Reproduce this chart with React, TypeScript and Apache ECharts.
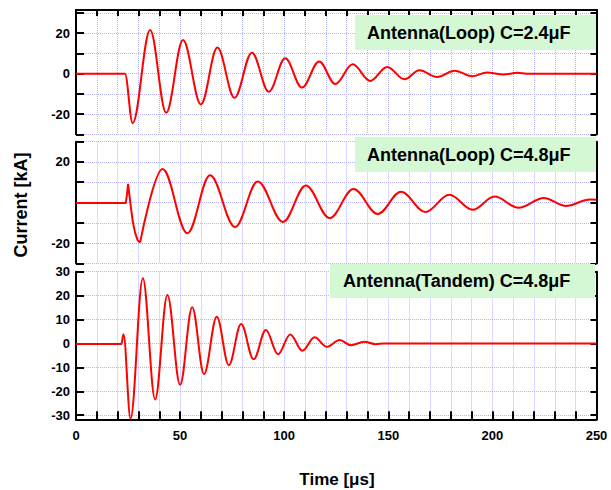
import React, { useEffect, useRef } from 'react';
import * as echarts from 'echarts';

// Panel 1: Antenna(Loop) C=2.4μF — onset and extrema
const timeLoop24 = [0, 23.5, 27.2, 35.6, 43.3, 51.4, 60.0, 67.9, 76.1, 84.5, 92.6, 100.5, 108.5, 116.8, 124.5, 132.9, 141.3, 149.4, 157.8, 164.9, 173.4, 181.9, 190.2, 197.4, 205.3, 211.9, 216.5, 250];
const currentLoop24 = [0, 0, -24.5, 21.6, -19.3, 16.7, -15.2, 12.9, -11.9, 10.4, -8.9, 7.6, -6.9, 6.0, -5.1, 4.6, -3.6, 3.3, -2.8, 1.7, -1.6, 1.5, -1.3, 0.6, -0.4, 0.4, 0, 0];

// Panel 2: Antenna(Loop) C=4.8μF — pre-trigger baseline and spike
const timeLoop48Spike = [0, 23.9, 24.5, 25.0, 25.5, 26.2, 27.2, 28.4, 29.6, 30.8];
const currentLoop48Spike = [-0.3, -0.3, 4, 9.2, 5, -1, -9, -15, -18.6, -19.7];
// Panel 2: oscillation extrema
const timeLoop48 = [30.8, 41.6, 53.5, 64.4, 76.4, 87.3, 99.4, 110.4, 121.8, 133.3, 144.9, 156.1, 167.8, 179.3, 190.5, 201.0, 212.6, 224.7, 235.1, 247.0, 250];
const currentLoop48 = [-19.7, 16.5, -15.2, 13.4, -12.1, 10.4, -9.6, 8.4, -7.7, 6.6, -5.7, 5.3, -4.7, 3.8, -3.6, 2.9, -2.6, 2.2, -1.7, 1.5, 1.3];

// Panel 3: Antenna(Tandem) C=4.8μF
const timeTandem = [0, 21.8, 22.8, 26.2, 32.1, 38.0, 43.9, 50.0, 55.8, 61.5, 67.6, 73.4, 79.3, 85.3, 91.2, 97.0, 102.9, 108.7, 114.6, 120.5, 126.6, 132.0, 138.5, 144.0, 148.0, 250];
const currentTandem = [-0.2, -0.2, 3.9, -31.4, 27.3, -23.4, 20.3, -17.3, 15.1, -12.8, 11.2, -9.1, 8.1, -6.6, 5.6, -4.5, 3.8, -3.0, 2.6, -1.4, 1.4, -0.7, 0.7, -0.3, 0, 0];

const yTicksP1 = [-30, -20, -10, 0, 10, 20, 30];
const yLabelsP1 = [-20, 0, 20];
const yTicksP2 = [-30, -20, -10, 0, 10, 20, 30];
const yLabelsP2 = [-20, 20];
const yTicksP3 = [-30, -20, -10, 0, 10, 20, 30];
const yLabelsP3 = [-30, -20, -10, 0, 10, 20, 30];
const xLabelValues = [0, 50, 100, 150, 200, 250];

const panelTitles = ['Antenna(Loop) C=2.4μF', 'Antenna(Loop) C=4.8μF', 'Antenna(Tandem) C=4.8μF'];
const xTitle = 'Time [μs]';
const yTitle = 'Current [kA]';

const FONT = '"Liberation Sans", Arial, sans-serif';
const GRIDC = '#b3b3ff';

function zip(t: number[], v: number[]) {
  return t.map((x, i) => [x, v[i]]);
}

function yPair(gridIndex: number, min: number, max: number, ticks: number[], labels: number[]) {
  const left = {
    type: 'value', gridIndex, min, max, position: 'left', splitNumber: 6,
    axisLine: { show: true, onZero: false, lineStyle: { color: '#000', width: 2 } },
    axisTick: { show: true, inside: true, length: 8, customValues: ticks, lineStyle: { color: '#000', width: 2 } },
    axisLabel: { show: true, customValues: labels, fontSize: 13, fontWeight: 'bold', color: '#000', fontFamily: FONT, margin: 6 },
    splitLine: { show: true, lineStyle: { type: 'dotted', color: GRIDC, width: 1 } },
  };
  const right = {
    type: 'value', gridIndex, min, max, position: 'right', splitNumber: 6,
    axisLine: { show: true, onZero: false, lineStyle: { color: '#000', width: 2 } },
    axisTick: { show: true, inside: true, length: 6, customValues: ticks, lineStyle: { color: '#000', width: 2 } },
    axisLabel: { show: false },
    splitLine: { show: false },
  };
  return [left, right];
}

export default function App() {
  const ref = useRef<HTMLDivElement>(null);
  useEffect(() => {
    if (!ref.current) return;
    const chart = echarts.init(ref.current, undefined, { renderer: 'svg' });
    const grids = [
      { left: 76, right: 14.5, top: 10, height: 124.3 },
      { left: 76, right: 14.5, top: 141.7, height: 121.6 },
      { left: 76, right: 14.5, top: 271.7, height: 147.6 },
    ];
    const xBase = { type: 'value', min: 0, max: 250, interval: 10 };
    const xAxes = [
      {
        ...xBase, gridIndex: 0, position: 'top',
        axisLine: { show: true, onZero: false, lineStyle: { color: '#000', width: 2 } },
        axisTick: { show: true, inside: true, length: 6, lineStyle: { color: '#000', width: 2 } },
        axisLabel: { show: false },
        splitLine: { show: true, lineStyle: { type: 'dotted', color: GRIDC, width: 1 } },
      },
      {
        ...xBase, gridIndex: 1, position: 'bottom',
        axisLine: { show: false }, axisTick: { show: false }, axisLabel: { show: false },
        splitLine: { show: true, lineStyle: { type: 'dotted', color: GRIDC, width: 1 } },
      },
      {
        ...xBase, gridIndex: 2, position: 'bottom',
        axisLine: { show: true, onZero: false, lineStyle: { color: '#000', width: 2 } },
        axisTick: { show: true, inside: true, length: 8, lineStyle: { color: '#000', width: 2 } },
        axisLabel: {
          show: true, fontSize: 13, fontWeight: 'bold', color: '#000', fontFamily: FONT, margin: 10,
          formatter: (v: number) => (xLabelValues.indexOf(v) >= 0 ? String(v) : ''),
        },
        splitLine: { show: true, lineStyle: { type: 'dotted', color: GRIDC, width: 1 } },
      },
    ];
    const yAxes = [
      ...yPair(0, -30, 31.5, yTicksP1, yLabelsP1),
      ...yPair(1, -30, 30, yTicksP2, yLabelsP2),
      ...yPair(2, -31.7, 30, yTicksP3, yLabelsP3),
    ];
    const lineStyle = { color: '#ff0000', width: 2 };
    const smoothSeries = (xi: number, t: number[], v: number[]) => ({
      type: 'line', xAxisIndex: xi, yAxisIndex: xi * 2, data: zip(t, v),
      showSymbol: false, smooth: 0.36, smoothMonotone: 'x', lineStyle, z: 3,
    });
    const series = [
      smoothSeries(0, timeLoop24, currentLoop24),
      {
        type: 'line', xAxisIndex: 1, yAxisIndex: 2, data: zip(timeLoop48Spike, currentLoop48Spike),
        showSymbol: false, smooth: false, lineStyle, z: 3,
      },
      smoothSeries(1, timeLoop48, currentLoop48),
      smoothSeries(2, timeTandem, currentTandem),
    ];
    const boxes = [
      { x: 355, y: 15, w: 241, h: 35, tx: 367 },
      { x: 355, y: 137, w: 241, h: 35, tx: 367 },
      { x: 330, y: 264, w: 265, h: 34, tx: 343 },
    ];
    const graphic: any[] = [];
    boxes.forEach((b, i) => {
      graphic.push({ type: 'rect', shape: { x: b.x, y: b.y, width: b.w, height: b.h }, style: { fill: '#d4f7d4' }, z: 10 });
      graphic.push({
        type: 'text', x: b.tx, y: b.y + b.h / 2, z: 11,
        style: { text: panelTitles[i], font: `bold 18px ${FONT}`, fill: '#000', textAlign: 'left', textVerticalAlign: 'middle' },
      });
    });
    graphic.push({
      type: 'text', x: 337, y: 479, z: 11,
      style: { text: xTitle, font: `bold 17px ${FONT}`, fill: '#000', textAlign: 'center', textVerticalAlign: 'middle' },
    });
    graphic.push({
      type: 'text', x: 21, y: 205, rotation: Math.PI / 2, z: 11,
      style: { text: yTitle, font: `bold 18px ${FONT}`, fill: '#000', textAlign: 'center', textVerticalAlign: 'middle' },
    });
    chart.setOption({
      animation: false,
      backgroundColor: '#fff',
      grid: grids,
      xAxis: xAxes,
      yAxis: yAxes,
      series,
      graphic,
    } as any);
    return () => chart.dispose();
  }, []);
  return <div ref={ref} style={{ position: 'absolute', left: 0, top: 0, width: 611, height: 490 }} />;
}
